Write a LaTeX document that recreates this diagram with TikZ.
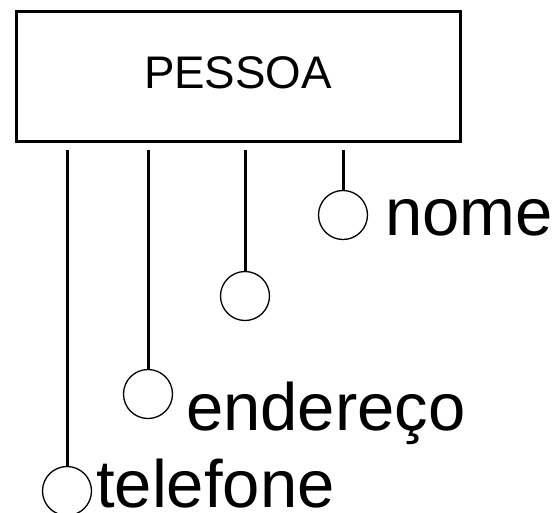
\documentclass[tikz,border=0pt]{standalone}
\usepackage{fontspec}
\setmainfont{Liberation Sans}
\tikzset{
  entbox/.style={draw, line width=3pt, minimum width=444pt, minimum height=130pt,
    inner sep=0pt, text depth=6pt, font=\fontsize{45.7}{46}\selectfont},
  attrib/.style={draw, circle, line width=1.3pt, minimum size=49pt, inner sep=0pt},
  attrname/.style={anchor=base west, inner sep=0pt, font=\fontsize{67}{67}\selectfont},
  attrline/.style={line width=3pt}
}
\begin{document}
\begin{tikzpicture}[x=1pt,y=-1pt]
\useasboundingbox (0,0) rectangle (560,512);
\node[entbox] (pessoa) at (238,76) {PESSOA};
\node[attrib] (nome) at (343,215) {};
\node[attrib] (semnome) at (245,296) {};
\node[attrib] (endereco) at (148,394) {};
\node[attrib] (telefone) at (67,491) {};
\node[attrname] (lnome) at (385,235) {nome};
\node[attrname] (lendereco) at (186,430) {endereço};
\node[attrname] (ltelefone) at (96,507) {telefone};
\draw[attrline] ([yshift=-7pt]pessoa.south -| nome.north) -- (nome.north);
\draw[attrline] ([yshift=-7pt]pessoa.south -| semnome.north) -- (semnome.north);
\draw[attrline] ([yshift=-7pt]pessoa.south -| endereco.north) -- (endereco.north);
\draw[attrline] ([yshift=-7pt]pessoa.south -| telefone.north) -- (telefone.north);
\end{tikzpicture}
\end{document}
